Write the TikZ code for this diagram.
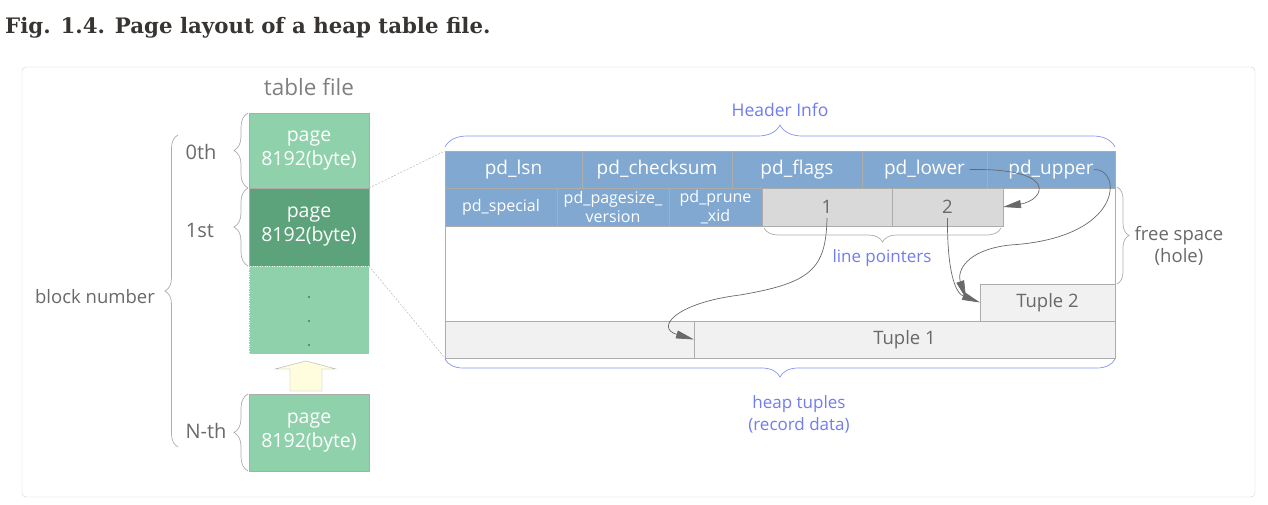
\documentclass[tikz,border=0pt]{standalone}
\usepackage{fontspec}
\setmainfont{Open Sans}
\newfontfamily\titelschrift{DejaVu Serif}
\usetikzlibrary{arrows.meta,decorations.pathreplacing,positioning}

\definecolor{seitengruen}{RGB}{142,209,171}
\definecolor{seitendunkel}{RGB}{92,163,123}
\definecolor{kopfblau}{RGB}{128,168,209}
\definecolor{zellgrau}{RGB}{217,217,217}
\definecolor{tupelgrau}{RGB}{241,241,241}
\definecolor{randgrau}{RGB}{172,172,172}
\definecolor{textgrau}{RGB}{105,105,105}
\definecolor{infoblau}{RGB}{112,124,240}
\definecolor{klammerblau}{RGB}{135,148,240}
\definecolor{titelgrau}{RGB}{55,52,50}
\definecolor{gelb}{RGB}{255,253,222}

\tikzset{
    seite/.style={draw=randgrau, fill=seitengruen, text=white, anchor=north west,
        minimum width=120, inner sep=0pt, outer sep=0pt,
        font=\fontsize{19.5}{24}\selectfont},
    kopf/.style={draw=randgrau, fill=kopfblau, text=white, anchor=north west,
        inner sep=0pt, outer sep=0pt},
    zelle/.style={draw=randgrau, fill=zellgrau, text=textgrau, anchor=north west,
        inner sep=0pt, outer sep=0pt, font=\fontsize{18.5}{21}\selectfont},
    tupel/.style={zelle, fill=tupelgrau, minimum height=37},
    beschriftung/.style={text=textgrau, font=\fontsize{18.5}{22}\selectfont},
    klammer/.style={randgrau, line width=0.7pt, decorate,
        decoration={brace, amplitude=#1}},
    klammer/.default=12,
    zeiger/.style={textgrau, line width=0.7pt, -{Triangle[length=18pt,width=8pt]}}
}

\begin{document}
\begin{tikzpicture}[x=1pt,y=-1pt, every text node part/.style={align=center}]
\useasboundingbox (0,0) rectangle (1268,504);

%Titel
\node[anchor=base west, inner sep=0pt, text=titelgrau,
    font=\titelschrift\bfseries\fontsize{21.3}{24}\selectfont]
    (titel) at (5,33) {Fig. 1.4. Page layout of a heap table file.};

%Rahmen
\draw[black!18, rounded corners=4] (22,67) rectangle (1255,497);

%Tabellendatei
    %Seiten
    \node[text=textgrau!85, font=\fontsize{22.5}{26}\selectfont] (datei) at (309,87) {table file};
    \node[seite, minimum height=75] (p0) at (249,113) {page\\8192(byte)};
    \node[seite, minimum height=78, fill=seitendunkel] (p1) at (249,188) {page\\8192(byte)};
    \node[seite, minimum height=88, draw=white, dotted] (pn) at (249,266) {};
    \foreach \y in {297,321,345}{
        \fill[textgrau] (309,\y) circle (1.2);}
    \draw[randgrau, fill=gelb] (290,391) -- (290,369) -- (275,369) -- (306,361)
        -- (336,369) -- (322,369) -- (322,391) -- cycle;
    \node[seite, minimum height=77] (pN) at (249,394) {page\\8192(byte)};

    %Klammern
    \draw[klammer=14] ([xshift=-1pt]p0.south west) -- ([xshift=-1pt]p0.north west);
    \draw[klammer=14] ([xshift=-1pt]p1.south west) -- ([xshift=-1pt]p1.north west);
    \draw[klammer=14] ([xshift=-1pt]pN.south west) -- ([xshift=-1pt]pN.north west);
    \draw[klammer=13] (178,447) -- (178,135);
    \node[beschriftung, font=\fontsize{20}{22}\selectfont] (n0) at (201,152) {0th};
    \node[beschriftung, font=\fontsize{20}{22}\selectfont] (n1) at (200,230) {1st};
    \node[beschriftung, font=\fontsize{20}{22}\selectfont] (nN) at (206,431) {N-th};
    \node[beschriftung] (block) at (95,297) {block number};

%Seitenaufbau
    \node[draw=randgrau, anchor=north west, minimum width=670, minimum height=207,
        inner sep=0pt, outer sep=0pt] (blatt) at (445,151) {};
    \draw[randgrau, dash pattern=on 2pt off 1.5pt] (p1.north east) -- (blatt.north west);
    \draw[randgrau, dash pattern=on 2pt off 1.5pt] (p1.south east) -- (blatt.south west);

    %Kopf
    \foreach \x/\w/\n/\t in {445/137/lsn/pd\_lsn, 582/150/check/pd\_checksum,
        732/130/flags/pd\_flags, 862/125/lower/pd\_lower, 987/128/upper/pd\_upper}{
        \node[kopf, minimum width=\w, minimum height=37,
            font=\fontsize{19}{21}\selectfont] (\n) at (\x,151) {\t};}
    \foreach \x/\w/\n/\t in {445/112/special/pd\_special,
        557/112/size/{pd\_pagesize\_\\version}, 669/93/prune/{pd\_prune\\\_xid}}{
        \node[kopf, minimum width=\w, minimum height=38,
            font=\fontsize{16}{19}\selectfont] (\n) at (\x,188) {\t};}

    %Zeiger und Tupel
    \node[zelle, minimum width=130, minimum height=38] (c1) at (762,188) {1};
    \node[zelle, minimum width=111, minimum height=38] (c2) at (892,188) {2};
    \node[tupel, minimum width=135] (t2) at (980,284) {Tuple 2};
    \node[tupel, minimum width=249] (leer) at (445,321) {};
    \node[tupel, minimum width=421] (t1) at (694,321) {Tuple 1};

    %Pfeile
    \coordinate (unterende) at ([xshift=45pt]lower.center);
    \coordinate (oberende) at ([xshift=43pt]upper.center);
    \coordinate (t2oben) at ([xshift=-14pt,yshift=4pt]t2.west);
    \draw[zeiger] (unterende) .. controls (1060,168) and (1045,200) .. (c2.east);
    \draw[zeiger] (oberende) .. controls (1122,168) and (1125,238) .. (1010,245)
        .. controls (965,250) and (957,272) .. (t2oben);
    \draw[zeiger] ([yshift=-11pt]c2.center) .. controls (947,262) and (953,292) .. (t2.west);
    \draw[zeiger] ([yshift=-11pt]c1.center) .. controls (826,270) and (810,283) .. (740,295)
        .. controls (675,303) and (655,328) .. (t1.west);

    %Klammern
    \draw[klammer=22, klammerblau] ([yshift=4pt]blatt.north west) -- ([yshift=4pt]blatt.north east);
    \node[text=infoblau, font=\fontsize{17.5}{20}\selectfont] (kopfinfo) at (780,110) {Header Info};
    \draw[klammer=14] ([xshift=-2pt,yshift=-2pt]c2.south east) -- ([xshift=2pt,yshift=-2pt]c1.south west);
    \node[text=infoblau, font=\fontsize{17}{20}\selectfont] (zeigerinfo) at (882,258) {line pointers};
    \draw[klammer=12] (1117,187) -- (1117,284);
    \node[beschriftung] (frei) at (1179,246) {free space\\(hole)};
    \draw[klammer=18, klammerblau] ([yshift=-1pt]blatt.south east) -- ([yshift=-1pt]blatt.south west);
    \node[text=infoblau, font=\fontsize{17}{22}\selectfont] (tupelinfo) at (799,414) {heap tuples\\(record data)};

\end{tikzpicture}
\end{document}
